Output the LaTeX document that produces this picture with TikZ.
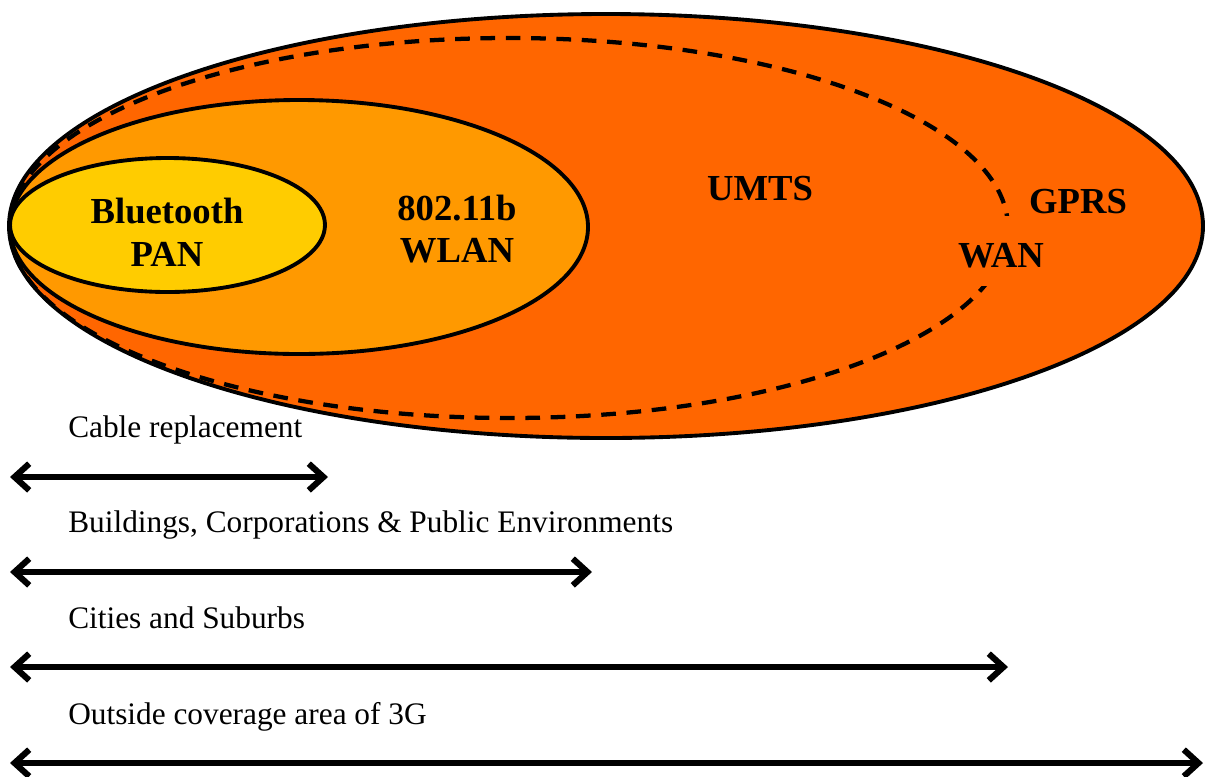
\documentclass[tikz,border=0pt]{standalone}
\usepackage{fontspec}
\setmainfont{Liberation Serif}
\usetikzlibrary{arrows.meta}
\definecolor{gprs}{HTML}{FF6600}
\definecolor{wlan}{HTML}{FF9900}
\definecolor{pan}{HTML}{FFCC00}
\tikzset{
  zone/.style={draw=black, line width=2.9pt},
  wanline/.style={draw=black, line width=3.2pt, dash pattern=on 11pt off 8pt},
  biglabel/.style={font=\fontsize{27.5pt}{32pt}\selectfont\bfseries, align=center, inner sep=0pt},
  rangelabel/.style={font=\fontsize{23.5pt}{28pt}\selectfont, anchor=base west, inner sep=0pt},
  rangearrow/.style={line width=4.6pt, {Straight Barb[length=11pt,width=20pt]}-{Straight Barb[length=11pt,width=20pt]}}
}
\begin{document}
\begin{tikzpicture}[x=0.75pt,y=-0.75pt]
\useasboundingbox (0,0) rectangle (1206,776);
% zones
\filldraw[zone, fill=gprs] (606,226) ellipse [x radius=447.75pt, y radius=159pt];
\draw[wanline] (509,228) ellipse [x radius=374.25pt, y radius=142.5pt];
\filldraw[zone, fill=wlan] (299,227) ellipse [x radius=216.75pt, y radius=95.25pt];
\filldraw[zone, fill=pan] (167.5,225) ellipse [x radius=118.1pt, y radius=50.25pt];
% zone labels
\node[biglabel] (bt) at (167,232) {Bluetooth\\PAN};
\node[biglabel] (wl) at (457,229) {802.11b\\WLAN};
\node[biglabel, anchor=base] (umts) at (760,200) {UMTS};
\node[biglabel, anchor=base] (gprs) at (1078,213) {GPRS};
\node[biglabel, anchor=base, fill=gprs, inner xsep=2pt, text depth=14pt, text height=38pt] (wan) at (1001,267) {WAN};
% ranges
\coordinate (a1) at (10,477); \coordinate (b1) at (328,477);
\coordinate (a2) at (10,572); \coordinate (b2) at (592,572);
\coordinate (a3) at (10,667); \coordinate (b3) at (1008,667);
\coordinate (a4) at (10,763); \coordinate (b4) at (1203,763);
\node[rangelabel] (l1) at (68,437) {Cable replacement};
\node[rangelabel] (l2) at (68,532) {Buildings, Corporations \& Public Environments};
\node[rangelabel] (l3) at (68,628) {Cities and Suburbs};
\node[rangelabel] (l4) at (68,724) {Outside coverage area of 3G};
\draw[rangearrow] (a1) -- (b1);
\draw[rangearrow] (a2) -- (b2);
\draw[rangearrow] (a3) -- (b3);
\draw[rangearrow] (a4) -- (b4);
\end{tikzpicture}
\end{document}
